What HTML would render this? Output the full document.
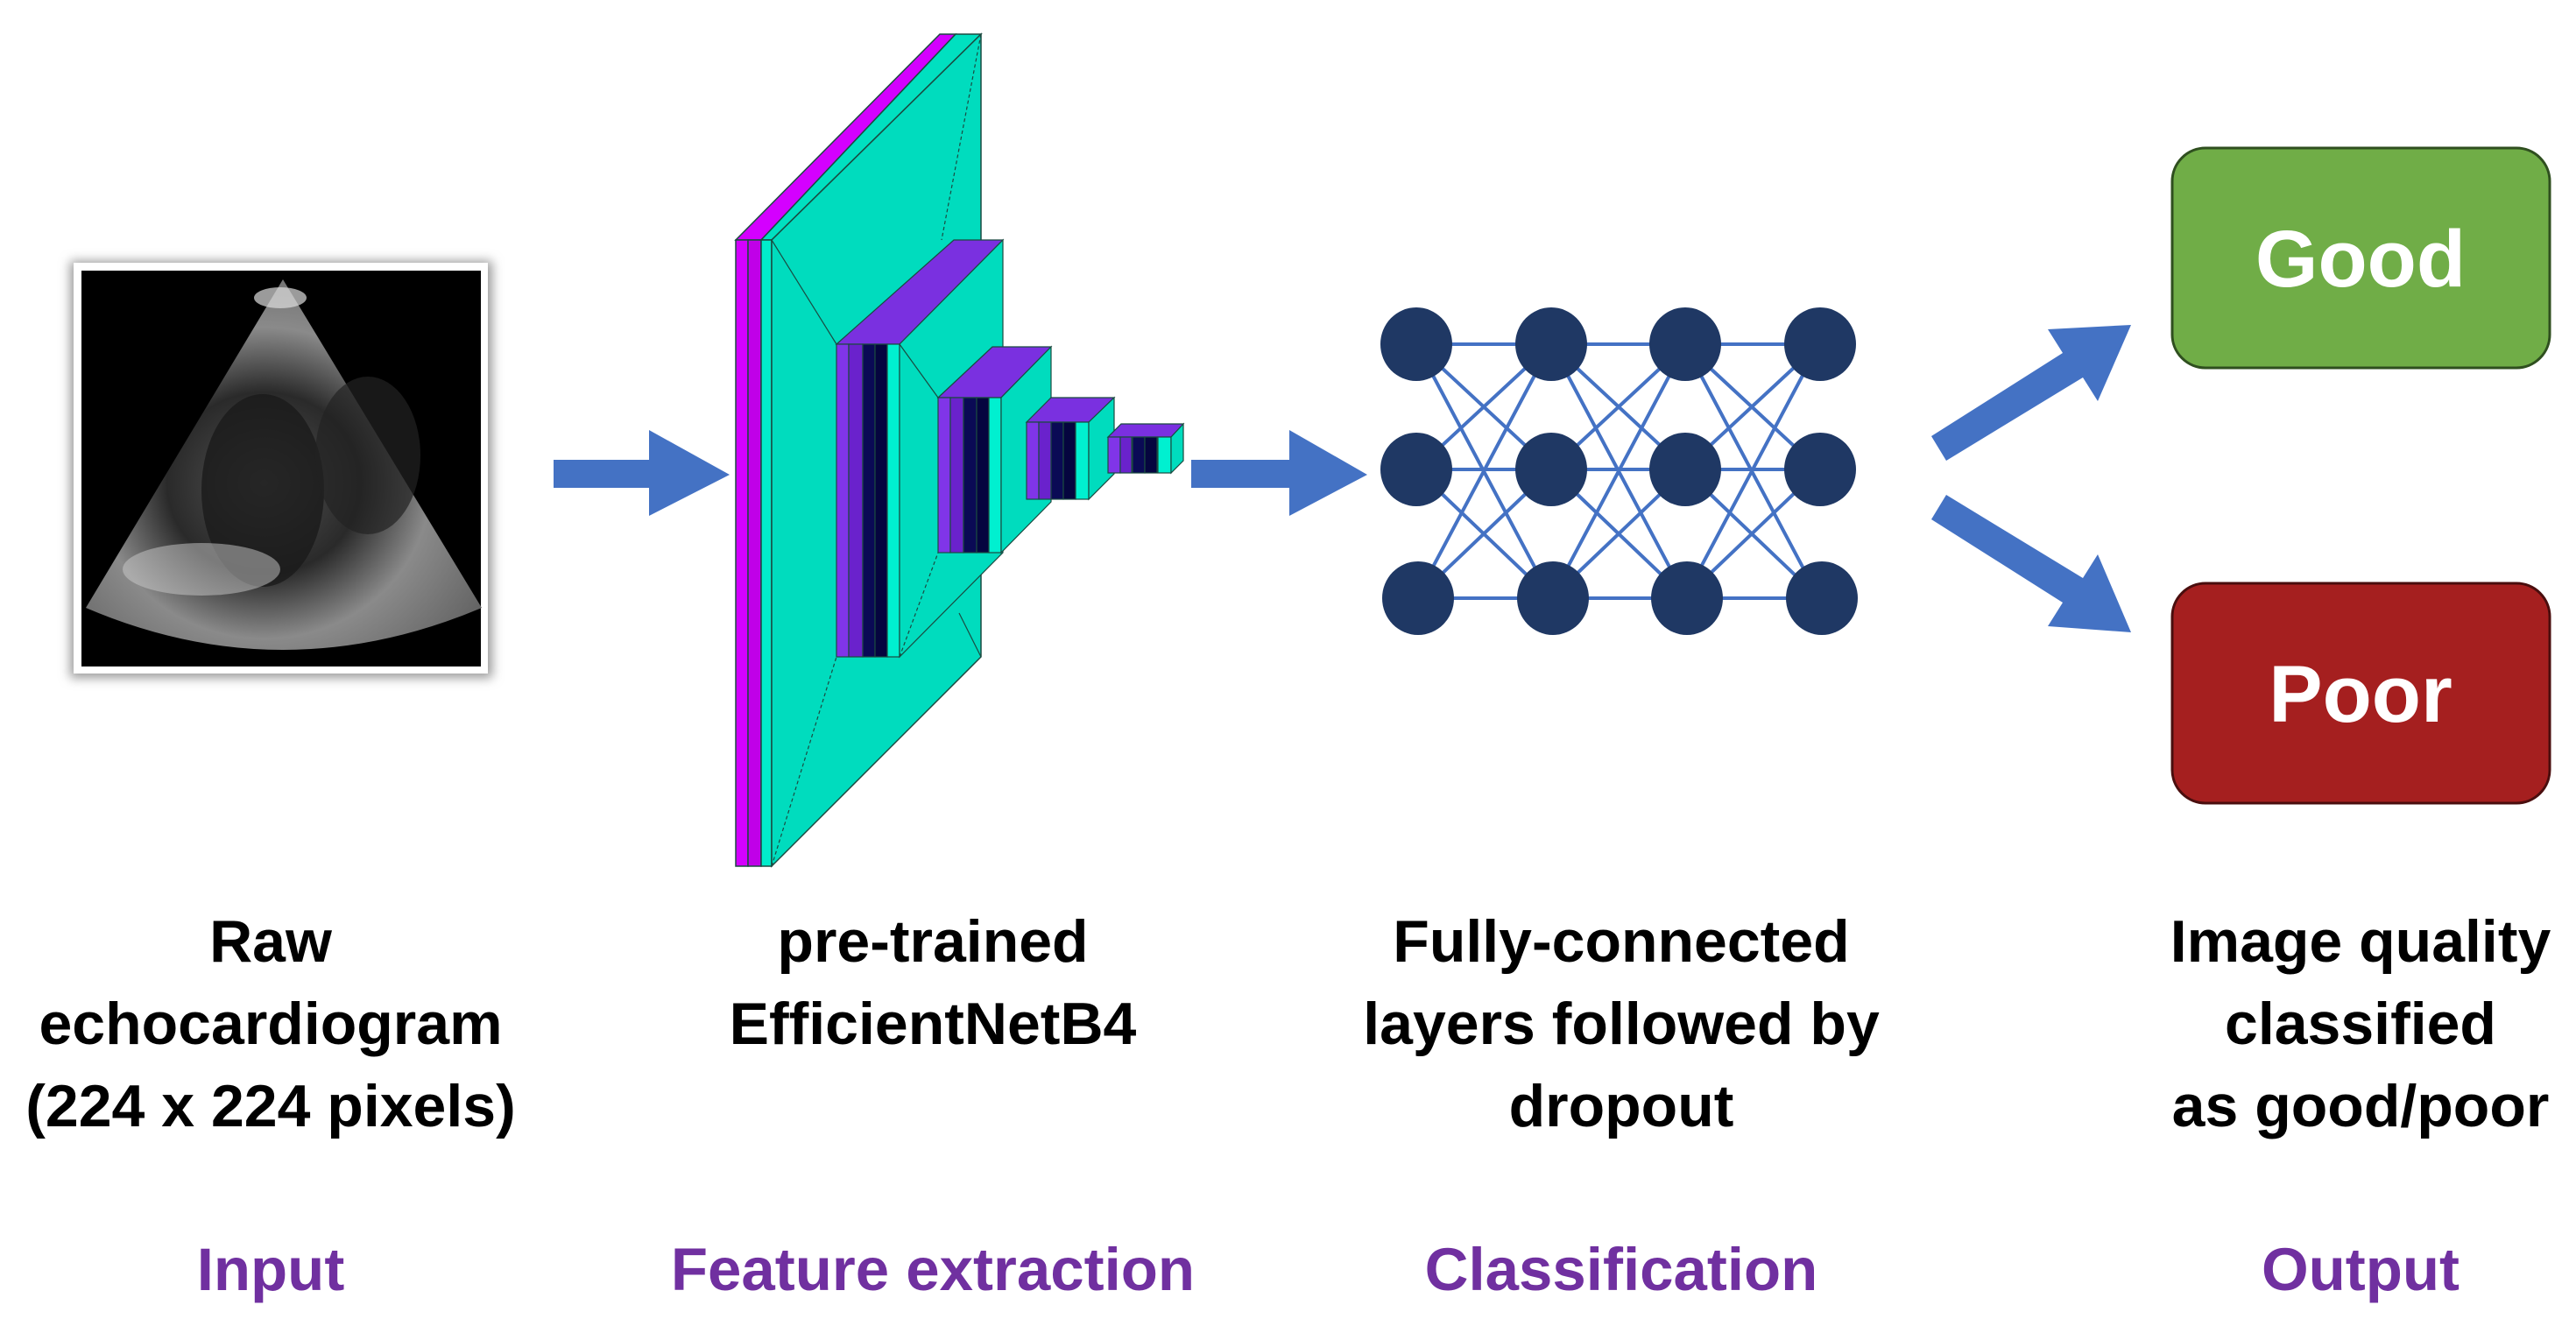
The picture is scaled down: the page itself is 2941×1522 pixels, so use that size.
<!DOCTYPE html>
<html><head><meta charset="utf-8"><style>
html,body{margin:0;padding:0;background:#fff;}
body{width:2941px;height:1522px;position:relative;overflow:hidden;font-family:"Liberation Sans",sans-serif;}
.lbl{position:absolute;text-align:center;font-weight:bold;color:#000;font-size:68px;line-height:94px;width:800px;}
.sec{position:absolute;text-align:center;font-weight:bold;color:#7030a0;font-size:69px;width:800px;line-height:70px;}
</style></head><body>
<svg width="2941" height="1522" style="position:absolute;left:0;top:0">
<defs>
<radialGradient id="fan" cx="0.45" cy="0.55" r="0.7">
<stop offset="0" stop-color="#555"/><stop offset="0.35" stop-color="#2a2a2a"/><stop offset="0.6" stop-color="#8a8a8a"/><stop offset="1" stop-color="#5a5a5a"/>
</radialGradient>
<filter id="sh"><feGaussianBlur stdDeviation="6"/></filter>
</defs>
<rect x="80" y="298" width="482" height="476" fill="#999" filter="url(#sh)"/>
<rect x="84" y="300" width="473" height="469" fill="#fff"/>
<rect x="93" y="309" width="456" height="452" fill="#000"/>
<path d="M323,319 L98,694 Q323,790 550,694 Z" fill="url(#fan)"/>
<ellipse cx="300" cy="560" rx="70" ry="110" fill="#1a1a1a" opacity="0.8"/>
<ellipse cx="420" cy="520" rx="60" ry="90" fill="#222" opacity="0.7"/>
<ellipse cx="230" cy="650" rx="90" ry="30" fill="#ccc" opacity="0.5"/>
<ellipse cx="320" cy="340" rx="30" ry="12" fill="#ddd" opacity="0.7"/>
<polygon points="632,525 741,525 741,491 833,542 741,589 741,557 632,557" fill="#4472c4"/>
<polygon points="1360,525 1472,525 1472,491 1561,542 1472,589 1472,557 1360,557" fill="#4472c4"/>
<g stroke="#1a4a40" stroke-width="1.5">
<polygon points="840,274 1073,39 1091,39 869,274" fill="#d400ff"/>
<rect x="840" y="274" width="14" height="715" fill="#d400ff"/>
<rect x="854" y="274" width="15" height="715" fill="#c000e8"/>
<polygon points="869,274 1091,39 1120,39 881,274" fill="#00e0c0"/>
<rect x="869" y="274" width="12" height="715" fill="#00eccc"/>
<polygon points="881,274 1120,39 1120,750 881,989" fill="#00dcbe"/>
</g>
<g stroke="#1a4a40" stroke-width="1.2" fill="none">
<line x1="881" y1="274" x2="955" y2="393"/><line x1="1120" y1="39" x2="1075" y2="274" stroke-dasharray="4,3"/>
<line x1="881" y1="989" x2="955" y2="750" stroke-dasharray="4,3"/><line x1="1120" y1="750" x2="1095" y2="700"/>
</g>
<g stroke="#1a4a40" stroke-width="1.2">
<polygon points="955,393 1089,274 1145,274 1027,393" fill="#7a30e0"/>
<rect x="955" y="393" width="14" height="357" fill="#8035e8"/>
<rect x="969" y="393" width="16" height="357" fill="#6a22cc"/>
<rect x="985" y="393" width="14" height="357" fill="#0a0a55"/>
<rect x="999" y="393" width="14" height="357" fill="#05053f"/>
<rect x="1013" y="393" width="14" height="357" fill="#00f0d0"/>
<polygon points="1027,393 1145,274 1145,631 1027,750" fill="#00dcbe"/>
<line x1="1027" y1="393" x2="1071" y2="454" fill="none"/><line x1="1027" y1="750" x2="1071" y2="631" stroke-dasharray="4,3"/>
<polygon points="1071,454 1133,396 1200,396 1143,454" fill="#7a30e0"/>
<rect x="1071" y="454" width="14" height="177" fill="#8035e8"/>
<rect x="1085" y="454" width="15" height="177" fill="#6a22cc"/>
<rect x="1100" y="454" width="15" height="177" fill="#0a0a55"/>
<rect x="1115" y="454" width="14" height="177" fill="#05053f"/>
<rect x="1129" y="454" width="14" height="177" fill="#00f0d0"/>
<polygon points="1143,454 1200,396 1200,573 1143,631" fill="#00dcbe"/>
<polygon points="1172,482 1200,454 1272,454 1243,482" fill="#7a30e0"/>
<rect x="1172" y="482" width="14" height="88" fill="#8035e8"/>
<rect x="1186" y="482" width="14" height="88" fill="#6a22cc"/>
<rect x="1200" y="482" width="14" height="88" fill="#0a0a55"/>
<rect x="1214" y="482" width="14" height="88" fill="#05053f"/>
<rect x="1228" y="482" width="15" height="88" fill="#00f0d0"/>
<polygon points="1243,482 1272,454 1272,541 1243,570" fill="#00dcbe"/>
<polygon points="1265,499 1280,484 1351,484 1337,499" fill="#7a30e0"/>
<rect x="1265" y="499" width="14" height="41" fill="#8035e8"/>
<rect x="1279" y="499" width="13" height="41" fill="#6a22cc"/>
<rect x="1293" y="499" width="14" height="41" fill="#0a0a55"/>
<rect x="1307" y="499" width="14" height="41" fill="#05053f"/>
<rect x="1322" y="499" width="15" height="41" fill="#00f0d0"/>
<polygon points="1337,499 1351,484 1351,526 1337,540" fill="#00dcbe"/>
</g>
<g stroke="#4472c4" stroke-width="4">
<g id="c1">
<line x1="1617" y1="393" x2="1771" y2="393"/><line x1="1617" y1="393" x2="1771" y2="536"/><line x1="1617" y1="393" x2="1771" y2="683"/>
<line x1="1617" y1="536" x2="1771" y2="393"/><line x1="1617" y1="536" x2="1771" y2="536"/><line x1="1617" y1="536" x2="1771" y2="683"/>
<line x1="1617" y1="683" x2="1771" y2="393"/><line x1="1617" y1="683" x2="1771" y2="536"/><line x1="1617" y1="683" x2="1771" y2="683"/>
</g>
<use href="#c1" x="154"/><use href="#c1" x="306"/>
</g>
<g fill="#1f3864">
<ellipse cx="1617" cy="393" rx="41" ry="42"/><ellipse cx="1771" cy="393" rx="41" ry="42"/><ellipse cx="1924" cy="393" rx="41" ry="42"/><ellipse cx="2078" cy="393" rx="41" ry="42"/>
<ellipse cx="1617" cy="536" rx="41" ry="42"/><ellipse cx="1771" cy="536" rx="41" ry="42"/><ellipse cx="1924" cy="536" rx="41" ry="42"/><ellipse cx="2078" cy="536" rx="41" ry="42"/>
<ellipse cx="1619" cy="683" rx="41" ry="42"/><ellipse cx="1773" cy="683" rx="41" ry="42"/><ellipse cx="1926" cy="683" rx="41" ry="42"/><ellipse cx="2080" cy="683" rx="41" ry="42"/>
</g>
<g fill="#4472c4">
<polygon points="2205,498 2355,403 2338,376 2433,371 2395,458 2378,431 2222,526"/>
<polygon points="2205,593 2355,688 2338,715 2433,722 2395,633 2378,660 2222,565"/>
</g>
<rect x="2480" y="169" width="431" height="251" rx="38" fill="#70ad47" stroke="#2f4f1f" stroke-width="3"/>
<rect x="2480" y="666" width="431" height="251" rx="38" fill="#a51f1f" stroke="#4a0e0e" stroke-width="3"/>
<text x="2695" y="327" font-family="Liberation Sans" font-weight="bold" font-size="92" fill="#fff" text-anchor="middle">Good</text>
<text x="2695" y="824" font-family="Liberation Sans" font-weight="bold" font-size="92" fill="#fff" text-anchor="middle">Poor</text>
</svg>
<div class="lbl" style="left:-91px;top:1028px">Raw<br>echocardiogram<br>(224 x 224 pixels)</div>
<div class="lbl" style="left:665px;top:1028px">pre-trained<br>EfficientNetB4</div>
<div class="lbl" style="left:1451px;top:1028px">Fully-connected<br>layers followed by<br>dropout</div>
<div class="lbl" style="left:2295px;top:1028px">Image quality<br>classified<br>as good/poor</div>
<div class="sec" style="left:-91px;top:1415px">Input</div>
<div class="sec" style="left:665px;top:1415px">Feature extraction</div>
<div class="sec" style="left:1451px;top:1415px">Classification</div>
<div class="sec" style="left:2295px;top:1415px">Output</div>
</body></html>
